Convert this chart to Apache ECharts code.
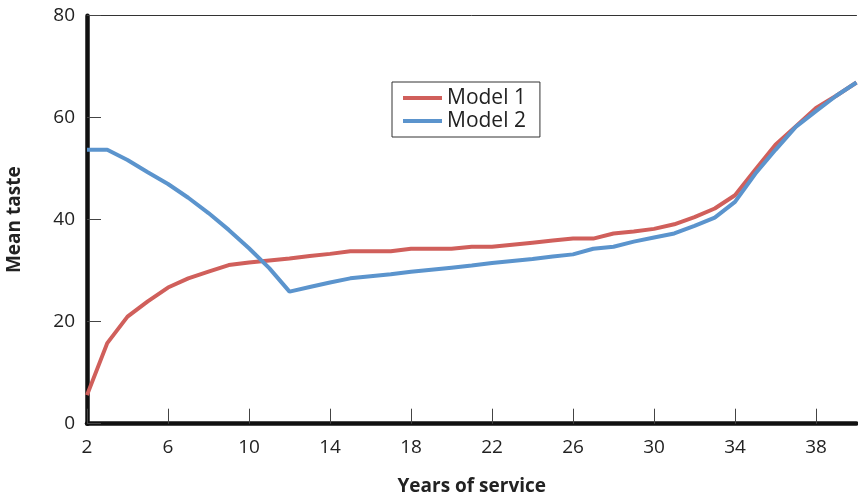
<!DOCTYPE html>
<html>
<head>
<meta charset="utf-8">
<script src="https://cdn.jsdelivr.net/npm/echarts@6/dist/echarts.min.js"></script>
<style>
  html, body { margin: 0; padding: 0; background: #fff; }
  #chart { width: 858px; height: 497px; }
</style>
</head>
<body>
<div id="chart"></div>
<script>
// years of service 2..40
var years = [];
for (var y = 2; y <= 40; y++) years.push(String(y));

var model1 = [5.6, 15.8, 21.0, 24.0, 26.7, 28.5, 29.8, 31.1, 31.6, 32.0,
  32.4, 32.9, 33.3, 33.8, 33.8, 33.8, 34.3, 34.3, 34.3, 34.7,
  34.7, 35.1, 35.5, 35.9, 36.3, 36.3, 37.3, 37.7, 38.2, 39.1,
  40.5, 42.2, 44.8, 49.8, 54.7, 58.3, 61.9, 64.3, 66.9];

var model2 = [53.7, 53.7, 51.7, 49.3, 47.0, 44.3, 41.3, 38.0, 34.4, 30.5,
  25.9, 26.8, 27.7, 28.5, 28.9, 29.3, 29.8, 30.2, 30.6, 31.0,
  31.5, 31.9, 32.3, 32.8, 33.2, 34.3, 34.7, 35.7, 36.5, 37.3,
  38.8, 40.4, 43.5, 49.0, 53.7, 58.2, 61.3, 64.3, 66.9];

var font = '"Open Sans", "Noto Sans", sans-serif';

var myChart = echarts.init(document.getElementById('chart'));
var option = {
  animation: false,
  textStyle: { fontFamily: font },
  grid: { left: 87, right: 1.5, top: 15.7, bottom: 73.3, containLabel: false, outerBoundsMode: 'none' },
  legend: {
    orient: 'vertical',
    left: 392,
    top: 82,
    padding: [5, 14, 5, 11],
    itemGap: 1,
    icon: 'rect',
    itemWidth: 39,
    itemHeight: 4,
    borderColor: '#333',
    borderWidth: 1,
    textStyle: { fontSize: 21, color: '#222', lineHeight: 22, fontFamily: font },
    data: ['Model 1', 'Model 2']
  },
  xAxis: [{
    type: 'category',
    boundaryGap: false,
    data: years,
    name: 'Years of service',
    nameLocation: 'middle',
    nameGap: 53,
    nameTextStyle: { fontSize: 19, fontWeight: 'bold', color: '#222' },
    axisLine: { lineStyle: { color: '#111', width: 4.5 } },
    axisTick: { inside: true, length: 15, interval: 3, lineStyle: { color: '#444', width: 1 } },
    axisLabel: { interval: 3, fontSize: 19, color: '#222', margin: 14 },
    splitLine: { show: false }
  }, {
    type: 'category',
    position: 'top',
    boundaryGap: false,
    data: years,
    axisLine: { lineStyle: { color: '#333', width: 1 } },
    axisTick: { show: false },
    axisLabel: { show: false }
  }],
  yAxis: {
    type: 'value',
    min: 0,
    max: 80,
    interval: 20,
    name: 'Mean taste',
    nameLocation: 'middle',
    nameGap: 63,
    nameTextStyle: { fontSize: 19, fontWeight: 'bold', color: '#222' },
    axisLine: { show: true, lineStyle: { color: '#111', width: 4.5 } },
    axisTick: { show: true, inside: true, length: 14, lineStyle: { color: '#444', width: 1 } },
    axisLabel: { fontSize: 19, color: '#222', margin: 12 },
    splitLine: { show: false }
  },
  series: [{
    name: 'Model 1',
    type: 'line',
    data: model1,
    symbol: 'none',
    color: '#d05f5b',
    lineStyle: { width: 4, color: '#d05f5b' }
  }, {
    name: 'Model 2',
    type: 'line',
    data: model2,
    symbol: 'none',
    color: '#5b94cd',
    lineStyle: { width: 4, color: '#5b94cd' }
  }]
};
myChart.setOption(option);
</script>
</body>
</html>
